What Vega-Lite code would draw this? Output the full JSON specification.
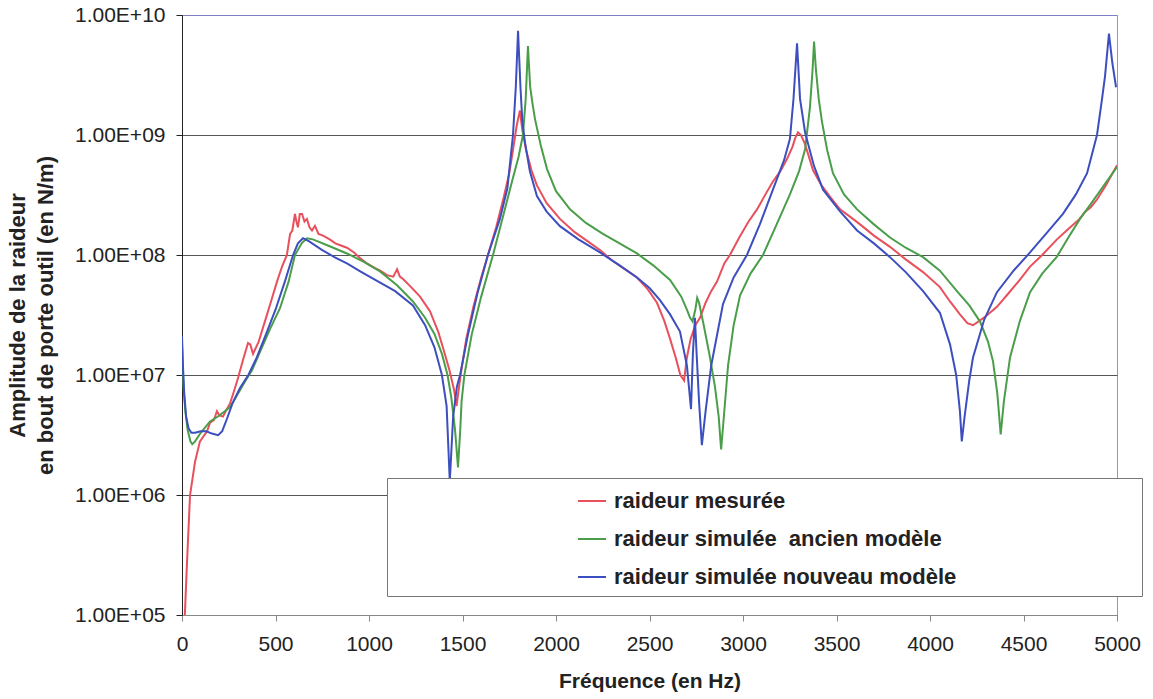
{
  "$schema": "https://vega.github.io/schema/vega-lite/v6.json",
  "width": 935,
  "height": 600,
  "autosize": "none",
  "padding": {"left": 182, "top": 15, "right": 36, "bottom": 84},
  "background": "white",
  "config": {"view": {"stroke": "#999", "strokeWidth": 1}, "font": "Liberation Sans"},
  "encoding": {
    "x": {"field": "f", "type": "quantitative", "scale": {"domain": [0, 5000], "nice": false},
      "axis": {"title": "Fréquence (en Hz)", "format": "d", "values": [0,500,1000,1500,2000,2500,3000,3500,4000,4500,5000], "grid": false,
        "domainColor": "#888", "tickColor": "#888", "tickSize": 6, "labelFontSize": 21, "labelColor": "#222", "labelPadding": 12,
        "labelFlush": false, "titleFontSize": 21, "titleFontWeight": "bold", "titleColor": "#222", "titlePadding": 16}},
    "y": {"field": "k", "type": "quantitative", "scale": {"type": "log", "domain": [100000, 10000000000]},
      "axis": {"title": ["Amplitude de la raideur", "en bout de porte outil (en N/m)"], "values": [100000, 1000000, 10000000, 100000000, 1000000000, 10000000000],
        "labelExpr": "'1.00E+' + (round(log(datum.value)/LN10) < 10 ? '0' : '') + round(log(datum.value)/LN10)",
        "grid": true, "gridColor": {"condition": {"test": "datum.value >= 9e9", "value": "#7f7fc4"}, "value": "#555"},
        "domainColor": "#222", "tickColor": "#222", "tickSize": 6, "labelFontSize": 21, "labelColor": "#222", "labelPadding": 11,
        "titleFontSize": 22, "titleFontWeight": "bold", "titleColor": "#222", "titlePadding": 17, "titleLineHeight": 28}}
  },
  "layer": [
    {
      "data": {"values": [
        {"f":14,"k":9e4},{"f":27,"k":2.8e5},{"f":43,"k":1e6},{"f":70,"k":1.9e6},{"f":96,"k":2.8e6},{"f":134,"k":3.4e6},{"f":150,"k":4e6},{"f":170,"k":4.2e6},{"f":187,"k":5e6},{"f":200,"k":4.6e6},{"f":219,"k":4.5e6},{"f":240,"k":5.2e6},{"f":257,"k":5.8e6},{"f":280,"k":7.5e6},{"f":300,"k":9.5e6},{"f":330,"k":1.4e7},{"f":353,"k":1.85e7},{"f":365,"k":1.8e7},{"f":380,"k":1.5e7},{"f":410,"k":1.9e7},{"f":455,"k":3.2e7},{"f":480,"k":4.3e7},{"f":508,"k":6e7},{"f":535,"k":8e7},{"f":561,"k":1e8},{"f":578,"k":1.5e8},{"f":590,"k":1.6e8},{"f":604,"k":2.2e8},{"f":612,"k":1.9e8},{"f":620,"k":1.7e8},{"f":630,"k":2.2e8},{"f":642,"k":2.2e8},{"f":655,"k":1.9e8},{"f":668,"k":2e8},{"f":682,"k":1.7e8},{"f":695,"k":1.6e8},{"f":711,"k":1.75e8},{"f":730,"k":1.5e8},{"f":754,"k":1.45e8},{"f":790,"k":1.35e8},{"f":820,"k":1.25e8},{"f":850,"k":1.2e8},{"f":882,"k":1.15e8},{"f":920,"k":1.05e8},{"f":950,"k":9.5e7},{"f":989,"k":8.5e7},{"f":1030,"k":7.8e7},{"f":1060,"k":7.4e7},{"f":1096,"k":6.8e7},{"f":1130,"k":6.6e7},{"f":1150,"k":7.6e7},{"f":1165,"k":6.6e7},{"f":1182,"k":6.3e7},{"f":1220,"k":5.5e7},{"f":1273,"k":4.5e7},{"f":1326,"k":3.4e7},{"f":1370,"k":2.3e7},{"f":1400,"k":1.6e7},{"f":1430,"k":1.1e7},{"f":1455,"k":7.5e6},{"f":1468,"k":5.5e6},{"f":1490,"k":1e7},{"f":1520,"k":2e7},{"f":1560,"k":3.8e7},{"f":1600,"k":6.5e7},{"f":1636,"k":1e8},{"f":1680,"k":1.7e8},{"f":1720,"k":3e8},{"f":1750,"k":4.8e8},{"f":1770,"k":7.5e8},{"f":1790,"k":1.2e9},{"f":1807,"k":1.6e9},{"f":1820,"k":1.1e9},{"f":1840,"k":7.5e8},{"f":1870,"k":5e8},{"f":1898,"k":3.8e8},{"f":1950,"k":2.7e8},{"f":2021,"k":2e8},{"f":2100,"k":1.55e8},{"f":2170,"k":1.3e8},{"f":2235,"k":1.1e8},{"f":2300,"k":9e7},{"f":2370,"k":7.6e7},{"f":2433,"k":6.5e7},{"f":2490,"k":5.2e7},{"f":2540,"k":4e7},{"f":2580,"k":2.8e7},{"f":2610,"k":2e7},{"f":2640,"k":1.4e7},{"f":2665,"k":1e7},{"f":2685,"k":9e6},{"f":2700,"k":1.4e7},{"f":2720,"k":2e7},{"f":2745,"k":2.6e7},{"f":2770,"k":3e7},{"f":2800,"k":4e7},{"f":2830,"k":5e7},{"f":2861,"k":6e7},{"f":2900,"k":8.5e7},{"f":2930,"k":1e8},{"f":2980,"k":1.4e8},{"f":3030,"k":1.9e8},{"f":3075,"k":2.4e8},{"f":3120,"k":3.2e8},{"f":3160,"k":4.1e8},{"f":3200,"k":5e8},{"f":3235,"k":6.3e8},{"f":3265,"k":8e8},{"f":3280,"k":9.5e8},{"f":3294,"k":1.05e9},{"f":3310,"k":1e9},{"f":3330,"k":8.5e8},{"f":3350,"k":6.8e8},{"f":3374,"k":5.1e8},{"f":3420,"k":3.8e8},{"f":3470,"k":3e8},{"f":3519,"k":2.4e8},{"f":3570,"k":2.1e8},{"f":3626,"k":1.8e8},{"f":3700,"k":1.45e8},{"f":3786,"k":1.17e8},{"f":3870,"k":9.2e7},{"f":3963,"k":7.2e7},{"f":4053,"k":5.4e7},{"f":4107,"k":4.1e7},{"f":4160,"k":3.2e7},{"f":4200,"k":2.7e7},{"f":4230,"k":2.6e7},{"f":4260,"k":2.8e7},{"f":4300,"k":3.1e7},{"f":4358,"k":3.7e7},{"f":4420,"k":4.8e7},{"f":4480,"k":6.2e7},{"f":4535,"k":8e7},{"f":4600,"k":1e8},{"f":4679,"k":1.35e8},{"f":4750,"k":1.7e8},{"f":4800,"k":2e8},{"f":4830,"k":2.3e8},{"f":4860,"k":2.5e8},{"f":4893,"k":2.9e8},{"f":4940,"k":3.8e8},{"f":4989,"k":5.2e8},{"f":5000,"k":5.6e8}
      ]},
      "mark": {"type": "line", "strokeWidth": 2, "clip": true},
      "encoding": {"color": {"datum": "raideur mesurée", "type": "nominal",
        "scale": {"domain": ["raideur mesurée", "raideur simulée  ancien modèle", "raideur simulée nouveau modèle"], "range": ["#e8505c", "#4a9e4a", "#3d4fbf"]},
        "legend": {"orient": "none", "legendX": 205, "legendY": 463, "title": null, "symbolType": "stroke", "symbolSize": 784, "symbolStrokeWidth": 2,
          "symbolOffset": 182, "labelOffset": 7, "labelFontSize": 22, "labelFontWeight": "bold", "labelColor": "#222", "rowPadding": 12,
          "padding": 8, "strokeColor": "#777", "fillColor": "white", "labelLimit": 900,
          "labelExpr": "replace(datum.label, '  ', ' \u00a0') + '\u00a0\u00a0\u00a0\u00a0\u00a0\u00a0\u00a0\u00a0\u00a0\u00a0\u00a0\u00a0\u00a0\u00a0\u00a0\u00a0\u00a0\u00a0\u00a0\u00a0\u00a0\u00a0\u00a0\u00a0\u00a0\u00a0\u00a0\u00a0\u00a0\u200b'"}}}
    },
    {
      "data": {"values": [
        {"f":0,"k":1.8e7},{"f":8,"k":8e6},{"f":18,"k":5e6},{"f":30,"k":3.5e6},{"f":45,"k":2.8e6},{"f":55,"k":2.65e6},{"f":70,"k":2.8e6},{"f":100,"k":3.3e6},{"f":150,"k":4.1e6},{"f":200,"k":4.6e6},{"f":257,"k":5.4e6},{"f":300,"k":7e6},{"f":340,"k":9e6},{"f":375,"k":1.1e7},{"f":420,"k":1.6e7},{"f":470,"k":2.4e7},{"f":524,"k":3.6e7},{"f":570,"k":6e7},{"f":604,"k":1e8},{"f":640,"k":1.25e8},{"f":668,"k":1.38e8},{"f":700,"k":1.35e8},{"f":780,"k":1.2e8},{"f":882,"k":1.03e8},{"f":970,"k":8.8e7},{"f":1059,"k":7.3e7},{"f":1150,"k":5.6e7},{"f":1235,"k":4.1e7},{"f":1300,"k":3e7},{"f":1350,"k":2.2e7},{"f":1390,"k":1.5e7},{"f":1420,"k":1e7},{"f":1440,"k":6.5e6},{"f":1460,"k":3.5e6},{"f":1476,"k":1.7e6},{"f":1488,"k":3.5e6},{"f":1495,"k":6e6},{"f":1510,"k":1e7},{"f":1550,"k":2.2e7},{"f":1600,"k":4.5e7},{"f":1663,"k":1e8},{"f":1720,"k":2.2e8},{"f":1770,"k":4.4e8},{"f":1800,"k":6.6e8},{"f":1823,"k":1e9},{"f":1838,"k":2e9},{"f":1850,"k":5.5e9},{"f":1862,"k":2.5e9},{"f":1875,"k":1.8e9},{"f":1888,"k":1.35e9},{"f":1920,"k":8e8},{"f":1952,"k":5.2e8},{"f":2000,"k":3.4e8},{"f":2075,"k":2.4e8},{"f":2160,"k":1.85e8},{"f":2251,"k":1.5e8},{"f":2340,"k":1.25e8},{"f":2433,"k":1.03e8},{"f":2520,"k":8.2e7},{"f":2610,"k":6.2e7},{"f":2670,"k":4.5e7},{"f":2700,"k":3.5e7},{"f":2717,"k":3e7},{"f":2730,"k":2.8e7},{"f":2745,"k":3.5e7},{"f":2755,"k":4.4e7},{"f":2765,"k":4e7},{"f":2790,"k":2.6e7},{"f":2820,"k":1.5e7},{"f":2850,"k":8e6},{"f":2870,"k":4.5e6},{"f":2883,"k":2.4e6},{"f":2895,"k":4e6},{"f":2920,"k":1.2e7},{"f":2950,"k":2.6e7},{"f":2984,"k":4.6e7},{"f":3040,"k":7e7},{"f":3107,"k":1e8},{"f":3180,"k":1.8e8},{"f":3251,"k":3.2e8},{"f":3300,"k":5e8},{"f":3332,"k":7.6e8},{"f":3358,"k":1.7e9},{"f":3372,"k":3.5e9},{"f":3380,"k":6e9},{"f":3390,"k":3.5e9},{"f":3405,"k":2e9},{"f":3422,"k":1.3e9},{"f":3450,"k":7.5e8},{"f":3481,"k":4.8e8},{"f":3540,"k":3.2e8},{"f":3610,"k":2.4e8},{"f":3700,"k":1.8e8},{"f":3786,"k":1.4e8},{"f":3870,"k":1.15e8},{"f":3963,"k":9.6e7},{"f":4053,"k":7.4e7},{"f":4144,"k":5e7},{"f":4210,"k":3.8e7},{"f":4267,"k":2.8e7},{"f":4310,"k":1.9e7},{"f":4337,"k":1.3e7},{"f":4360,"k":7e6},{"f":4378,"k":3.2e6},{"f":4395,"k":6e6},{"f":4428,"k":1.4e7},{"f":4480,"k":2.8e7},{"f":4535,"k":4.9e7},{"f":4600,"k":7e7},{"f":4679,"k":9.7e7},{"f":4740,"k":1.4e8},{"f":4802,"k":2e8},{"f":4870,"k":2.8e8},{"f":4940,"k":4e8},{"f":5000,"k":5.4e8}
      ]},
      "mark": {"type": "line", "strokeWidth": 2, "clip": true},
      "encoding": {"color": {"datum": "raideur simulée  ancien modèle", "type": "nominal"}}
    },
    {
      "data": {"values": [
        {"f":0,"k":2.1e7},{"f":5,"k":1.2e7},{"f":12,"k":7e6},{"f":22,"k":4.5e6},{"f":35,"k":3.6e6},{"f":50,"k":3.3e6},{"f":70,"k":3.3e6},{"f":100,"k":3.4e6},{"f":130,"k":3.4e6},{"f":160,"k":3.25e6},{"f":193,"k":3.15e6},{"f":215,"k":3.4e6},{"f":240,"k":4.3e6},{"f":270,"k":5.8e6},{"f":310,"k":7.8e6},{"f":355,"k":1e7},{"f":400,"k":1.4e7},{"f":450,"k":2.2e7},{"f":500,"k":3.5e7},{"f":550,"k":6e7},{"f":594,"k":1e8},{"f":620,"k":1.25e8},{"f":647,"k":1.38e8},{"f":680,"k":1.3e8},{"f":750,"k":1.1e8},{"f":820,"k":9.5e7},{"f":882,"k":8.5e7},{"f":960,"k":7.2e7},{"f":1050,"k":6e7},{"f":1140,"k":5e7},{"f":1235,"k":3.8e7},{"f":1300,"k":2.6e7},{"f":1350,"k":1.7e7},{"f":1390,"k":1e7},{"f":1415,"k":5.5e6},{"f":1432,"k":1.3e6},{"f":1450,"k":4.5e6},{"f":1470,"k":8e6},{"f":1487,"k":1e7},{"f":1530,"k":2.2e7},{"f":1580,"k":4.8e7},{"f":1636,"k":1e8},{"f":1700,"k":2e8},{"f":1740,"k":3.6e8},{"f":1770,"k":1e9},{"f":1785,"k":2.5e9},{"f":1797,"k":7.4e9},{"f":1810,"k":2.5e9},{"f":1820,"k":1.3e9},{"f":1834,"k":8.7e8},{"f":1860,"k":5e8},{"f":1898,"k":3.1e8},{"f":1950,"k":2.3e8},{"f":2021,"k":1.74e8},{"f":2120,"k":1.35e8},{"f":2235,"k":1.05e8},{"f":2340,"k":8.2e7},{"f":2433,"k":6.5e7},{"f":2500,"k":5.3e7},{"f":2556,"k":4.2e7},{"f":2610,"k":3.2e7},{"f":2663,"k":2.3e7},{"f":2700,"k":1.2e7},{"f":2722,"k":5.2e6},{"f":2732,"k":1.5e7},{"f":2743,"k":3e7},{"f":2752,"k":1.5e7},{"f":2765,"k":6e6},{"f":2780,"k":2.6e6},{"f":2800,"k":5e6},{"f":2830,"k":1.2e7},{"f":2893,"k":3.9e7},{"f":2950,"k":6.5e7},{"f":3021,"k":1e8},{"f":3090,"k":1.8e8},{"f":3160,"k":3.5e8},{"f":3220,"k":6.2e8},{"f":3251,"k":9.3e8},{"f":3270,"k":2e9},{"f":3289,"k":5.8e9},{"f":3305,"k":2e9},{"f":3332,"k":1.05e9},{"f":3380,"k":5.5e8},{"f":3428,"k":3.5e8},{"f":3520,"k":2.3e8},{"f":3610,"k":1.6e8},{"f":3700,"k":1.25e8},{"f":3786,"k":9.6e7},{"f":3870,"k":7.2e7},{"f":3963,"k":5e7},{"f":4053,"k":3.3e7},{"f":4107,"k":1.8e7},{"f":4140,"k":1e7},{"f":4160,"k":5e6},{"f":4170,"k":2.8e6},{"f":4185,"k":4.5e6},{"f":4210,"k":9e6},{"f":4230,"k":1.4e7},{"f":4290,"k":2.9e7},{"f":4358,"k":4.9e7},{"f":4450,"k":7.5e7},{"f":4535,"k":1.05e8},{"f":4620,"k":1.5e8},{"f":4711,"k":2.2e8},{"f":4780,"k":3.2e8},{"f":4840,"k":4.8e8},{"f":4893,"k":1e9},{"f":4920,"k":2e9},{"f":4936,"k":3.1e9},{"f":4957,"k":7e9},{"f":4975,"k":4e9},{"f":4995,"k":2.5e9}
      ]},
      "mark": {"type": "line", "strokeWidth": 2, "clip": true},
      "encoding": {"color": {"datum": "raideur simulée nouveau modèle", "type": "nominal"}}
    }
  ]
}
